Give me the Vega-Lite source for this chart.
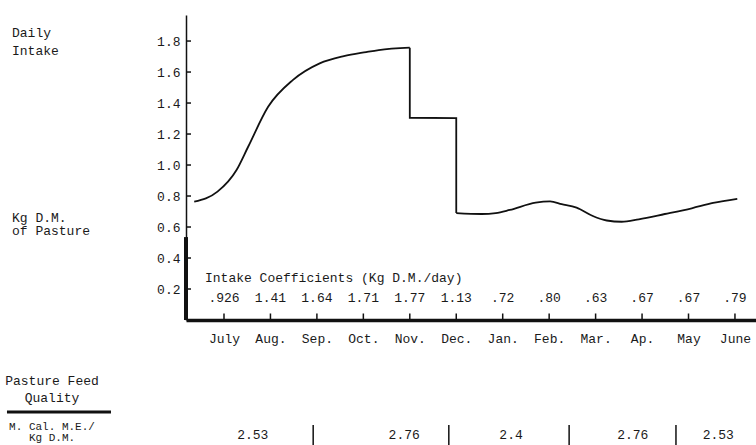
{
  "$schema": "https://vega.github.io/schema/vega-lite/v6.json",
  "width": 570,
  "height": 305,
  "autosize": {"type": "none"},
  "padding": {"left": 186, "top": 15, "right": 0, "bottom": 125},
  "background": "white",
  "config": {
    "view": {"stroke": null},
    "font": "Liberation Mono",
    "text": {"font": "Liberation Mono", "fontSize": 13, "color": "#1a1a1a"},
    "axis": {
      "labelFont": "Liberation Mono",
      "labelFontSize": 13,
      "labelColor": "#1a1a1a",
      "domainColor": "#111111",
      "tickColor": "#111111",
      "labelOverlap": false,
      "grid": false,
      "title": null
    }
  },
  "datasets": {
    "intake": [
      {"part": "rise", "month": -0.64, "intake": 0.763},
      {"part": "rise", "month": -0.14, "intake": 0.828},
      {"part": "rise", "month": 0.27, "intake": 0.968},
      {"part": "rise", "month": 0.52, "intake": 1.118},
      {"part": "rise", "month": 0.95, "intake": 1.376},
      {"part": "rise", "month": 1.48, "intake": 1.548},
      {"part": "rise", "month": 2.06, "intake": 1.656},
      {"part": "rise", "month": 2.58, "intake": 1.703},
      {"part": "rise", "month": 3.06, "intake": 1.729},
      {"part": "rise", "month": 3.33, "intake": 1.742},
      {"part": "rise", "month": 4.0, "intake": 1.757},
      {"part": "step", "month": 4.0, "intake": 1.757},
      {"part": "step", "month": 4.0, "intake": 1.305},
      {"part": "step", "month": 5.0, "intake": 1.302},
      {"part": "step", "month": 5.0, "intake": 0.69},
      {"part": "winter", "month": 5.0, "intake": 0.69},
      {"part": "winter", "month": 5.55, "intake": 0.684},
      {"part": "winter", "month": 5.85, "intake": 0.69},
      {"part": "winter", "month": 6.15, "intake": 0.71},
      {"part": "winter", "month": 6.71, "intake": 0.757},
      {"part": "winter", "month": 7.02, "intake": 0.765},
      {"part": "winter", "month": 7.27, "intake": 0.748},
      {"part": "winter", "month": 7.59, "intake": 0.725},
      {"part": "winter", "month": 7.94, "intake": 0.671},
      {"part": "winter", "month": 8.24, "intake": 0.642},
      {"part": "winter", "month": 8.56, "intake": 0.634},
      {"part": "winter", "month": 8.93, "intake": 0.65},
      {"part": "winter", "month": 9.49, "intake": 0.684},
      {"part": "winter", "month": 10.07, "intake": 0.721},
      {"part": "winter", "month": 10.53, "intake": 0.755},
      {"part": "winter", "month": 11.05, "intake": 0.781}
    ],
    "coefficients": [
      {"month": 0, "name": "July", "coefficient": ".926"},
      {"month": 1, "name": "Aug.", "coefficient": "1.41"},
      {"month": 2, "name": "Sep.", "coefficient": "1.64"},
      {"month": 3, "name": "Oct.", "coefficient": "1.71"},
      {"month": 4, "name": "Nov.", "coefficient": "1.77"},
      {"month": 5, "name": "Dec.", "coefficient": "1.13"},
      {"month": 6, "name": "Jan.", "coefficient": ".72"},
      {"month": 7, "name": "Feb.", "coefficient": ".80"},
      {"month": 8, "name": "Mar.", "coefficient": ".63"},
      {"month": 9, "name": "Ap.", "coefficient": ".67"},
      {"month": 10, "name": "May", "coefficient": ".67"},
      {"month": 11, "name": "June", "coefficient": ".79"}
    ],
    "yticks": [
      {"tick": 0.2}, {"tick": 0.4}, {"tick": 0.6}, {"tick": 0.8}, {"tick": 1.0},
      {"tick": 1.2}, {"tick": 1.4}, {"tick": 1.6}, {"tick": 1.8}
    ],
    "quality": [
      {"month": 0.62, "quality": "2.53"},
      {"month": 3.88, "quality": "2.76"},
      {"month": 6.18, "quality": "2.4"},
      {"month": 8.8, "quality": "2.76"},
      {"month": 10.64, "quality": "2.53"}
    ],
    "boundaries": [
      {"month": 1.92},
      {"month": 4.84},
      {"month": 7.43},
      {"month": 9.73}
    ]
  },
  "layer": [
    {
      "data": {"name": "intake"},
      "transform": [{"filter": "datum.part !== 'step'"}],
      "mark": {"type": "line", "interpolate": "monotone", "color": "#111111", "strokeWidth": 1.8},
      "encoding": {
        "x": {
          "field": "month", "type": "quantitative",
          "scale": {"domain": [-0.818, 11.453], "nice": false, "zero": false},
          "axis": {
            "values": [0, 1, 2, 3, 4, 5, 6, 7, 8, 9, 10, 11],
            "tickCount": 12,
            "labelExpr": "['July','Aug.','Sep.','Oct.','Nov.','Dec.','Jan.','Feb.','Mar.','Ap.','May','June'][datum.value]",
            "labelOverlap": false,
            "domainWidth": 3.5,
            "ticks": false,
            "labelPadding": 12
          }
        },
        "y": {
          "field": "intake", "type": "quantitative",
          "scale": {"domain": [0, 1.968], "nice": false, "zero": false},
          "axis": {
            "values": [0.2, 0.4, 0.6, 0.8, 1.0, 1.2, 1.4, 1.6, 1.8],
            "tickCount": 9,
            "format": ".1f",
            "labelOverlap": false,
            "domainWidth": 1.5,
            "ticks": false,
            "labelPadding": 6
          }
        },
        "detail": {"field": "part"}
      }
    },
    {
      "data": {"name": "intake"},
      "transform": [{"filter": "datum.part === 'step'"}],
      "mark": {"type": "line", "interpolate": "linear", "color": "#111111", "strokeWidth": 1.8},
      "encoding": {
        "x": {"field": "month", "type": "quantitative"},
        "y": {"field": "intake", "type": "quantitative"}
      }
    },
    {
      "data": {"name": "yticks"},
      "mark": {"type": "rule", "color": "#111111", "strokeWidth": 1.5},
      "encoding": {
        "x": {"datum": -0.818, "type": "quantitative"},
        "x2": {"datum": -0.71},
        "y": {"field": "tick", "type": "quantitative"}
      }
    },
    {
      "data": {"name": "coefficients"},
      "mark": {"type": "rule", "color": "#111111", "strokeWidth": 1.5},
      "encoding": {
        "x": {"field": "month", "type": "quantitative"},
        "y": {"datum": 0, "type": "quantitative"},
        "y2": {"datum": 0.042}
      }
    },
    {
      "data": {"values": [{}]},
      "mark": {"type": "rule", "color": "#111111", "strokeWidth": 4},
      "encoding": {
        "x": {"datum": -0.818, "type": "quantitative"},
        "y": {"datum": 0, "type": "quantitative"},
        "y2": {"datum": 0.535}
      }
    },
    {
      "data": {"values": [{}]},
      "mark": {"type": "text", "text": "Intake Coefficients (Kg D.M./day)", "align": "left", "baseline": "middle"},
      "encoding": {
        "x": {"datum": -0.409, "type": "quantitative"},
        "y": {"datum": 0.271, "type": "quantitative"}
      }
    },
    {
      "data": {"name": "coefficients"},
      "mark": {"type": "text", "align": "center", "baseline": "middle"},
      "encoding": {
        "x": {"field": "month", "type": "quantitative"},
        "y": {"datum": 0.142, "type": "quantitative"},
        "text": {"field": "coefficient"}
      }
    },
    {
      "data": {"values": [{}]},
      "mark": {"type": "text", "text": ["Daily", "Intake"], "align": "left", "baseline": "top", "lineHeight": 18},
      "encoding": {
        "x": {"datum": -4.564, "type": "quantitative"},
        "y": {"datum": 1.89, "type": "quantitative"}
      }
    },
    {
      "data": {"values": [{}]},
      "mark": {"type": "text", "text": ["Kg D.M.", "of Pasture"], "align": "left", "baseline": "top", "lineHeight": 13.5},
      "encoding": {
        "x": {"datum": -4.564, "type": "quantitative"},
        "y": {"datum": 0.697, "type": "quantitative"}
      }
    },
    {
      "data": {"values": [{}]},
      "mark": {"type": "text", "text": ["Pasture Feed", "Quality"], "align": "center", "baseline": "top", "lineHeight": 17},
      "encoding": {
        "x": {"datum": -3.703, "type": "quantitative"},
        "y": {"datum": -0.355, "type": "quantitative"}
      }
    },
    {
      "data": {"values": [{}]},
      "mark": {"type": "rule", "color": "#111111", "strokeWidth": 3},
      "encoding": {
        "x": {"datum": -4.672, "type": "quantitative"},
        "x2": {"datum": -2.433},
        "y": {"datum": -0.594, "type": "quantitative"}
      }
    },
    {
      "data": {"values": [{}]},
      "mark": {"type": "text", "text": ["M. Cal. M.E./", "Kg D.M."], "align": "center", "baseline": "top", "lineHeight": 10.5, "fontSize": 11},
      "encoding": {
        "x": {"datum": -3.703, "type": "quantitative"},
        "y": {"datum": -0.652, "type": "quantitative"}
      }
    },
    {
      "data": {"name": "quality"},
      "mark": {"type": "text", "align": "center", "baseline": "middle"},
      "encoding": {
        "x": {"field": "month", "type": "quantitative"},
        "y": {"datum": -0.742, "type": "quantitative"},
        "text": {"field": "quality"}
      }
    },
    {
      "data": {"name": "boundaries"},
      "mark": {"type": "rule", "color": "#111111", "strokeWidth": 1.5},
      "encoding": {
        "x": {"field": "month", "type": "quantitative"},
        "y": {"datum": -0.677, "type": "quantitative"},
        "y2": {"datum": -0.81}
      }
    }
  ]
}
